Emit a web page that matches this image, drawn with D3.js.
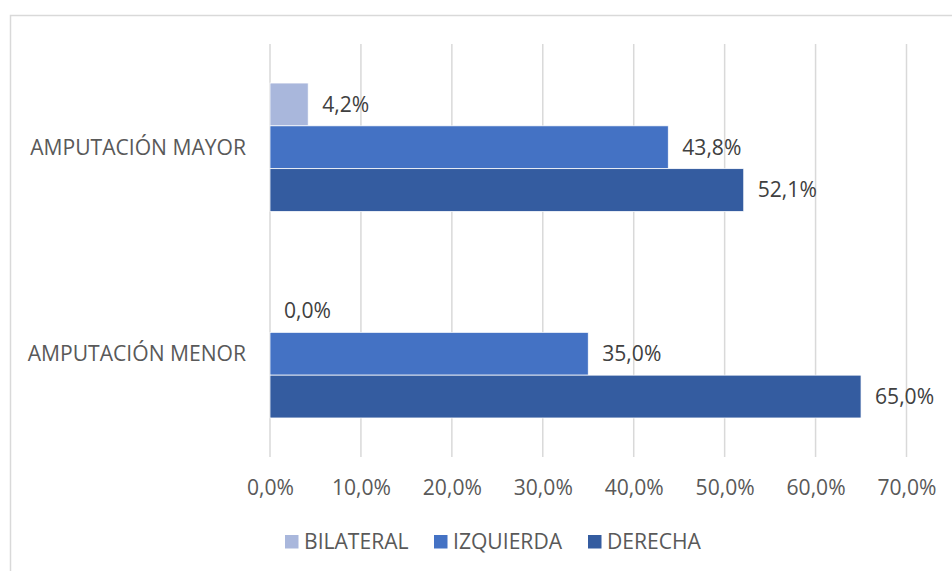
<!DOCTYPE html>
<html><head><meta charset="utf-8">
<script src="https://cdn.jsdelivr.net/npm/d3@7"></script>
<style>body{margin:0;background:#fff;} svg{display:block;} text{font-family:"Open Sans","Noto Sans",sans-serif;}</style>
</head><body><svg id="c" width="952" height="571"></svg>
<script>
const categories = ["AMPUTACIÓN MAYOR", "AMPUTACIÓN MENOR"];
const seriesNames = ["BILATERAL", "IZQUIERDA", "DERECHA"];
const bilateral = [4.2, 0.0];
const izquierda = [43.8, 35.0];
const derecha = [52.1, 65.0];
const xTicks = [0, 10, 20, 30, 40, 50, 60, 70];
const colors = ["#A9B7DC", "#4472C4", "#345CA0"];

const FS = 21.1;
const FF = "'Open Sans', 'Noto Sans', sans-serif";
const seriesVals = [bilateral, izquierda, derecha];
const svg = d3.select("#c");
svg.append("rect").attr("x",10.5).attr("y",15.5).attr("width",960).attr("height",600)
  .attr("fill","none").attr("stroke","#d9d9d9").attr("stroke-width",1.5);

const x = d3.scaleLinear().domain([0,70]).range([270,906.5]);
const y = d3.scaleBand().domain(categories).range([44,457]).paddingInner(0.378).paddingOuter(0.189);
const ys = d3.scaleBand().domain(seriesNames).range([0,y.bandwidth()]);
const fmt = v => d3.format(".1f")(v).replace(".", ",") + "%";

// gridlines
svg.append("g").selectAll("line").data(xTicks).join("line")
  .attr("x1",d=>x(d)).attr("x2",d=>x(d)).attr("y1",44).attr("y2",457)
  .attr("stroke","#d9d9d9").attr("stroke-width",1.5);

// axis labels
const ax = svg.append("g").attr("transform","translate(0,488)")
  .call(d3.axisBottom(x).tickValues(xTicks).tickFormat(fmt).tickSize(0).tickPadding(0));
ax.select(".domain").remove();
ax.selectAll("text").attr("font-size",FS).attr("fill","#595959").attr("dy","0.35em")
  .style("font-family",FF);

// category labels
svg.append("g").selectAll("text").data(categories).join("text")
  .attr("x",246).attr("y",d=>y(d)+y.bandwidth()/2).attr("dy","0.35em")
  .attr("text-anchor","end").attr("font-size",FS).attr("fill","#595959").text(d=>d);

// bars
seriesNames.forEach((s,si)=>{
  const g = svg.append("g");
  g.selectAll("rect").data(categories).join("rect")
    .attr("x",x(0)).attr("y",(c)=>y(c)+ys(s))
    .attr("width",(c,i)=>x(seriesVals[si][i])-x(0)).attr("height",ys.bandwidth())
    .attr("fill",colors[si]).attr("stroke","#ffffff").attr("stroke-width",0.75);
  g.selectAll("text").data(categories).join("text")
    .attr("x",(c,i)=>x(seriesVals[si][i])+14).attr("y",c=>y(c)+ys(s)+ys.bandwidth()/2)
    .attr("dy","0.35em").attr("font-size",FS).attr("fill","#404040")
    .text((c,i)=>fmt(seriesVals[si][i]));
});

// legend
const legX = [285, 434, 588];
const lg = svg.append("g");
seriesNames.forEach((s,i)=>{
  lg.append("rect").attr("x",legX[i]).attr("y",535).attr("width",13.5).attr("height",13.5).attr("fill",colors[i]);
  lg.append("text").attr("x",legX[i]+19).attr("y",542).attr("dy","0.35em")
    .attr("font-size",FS).attr("fill","#595959").text(s);
});
</script></body></html>
